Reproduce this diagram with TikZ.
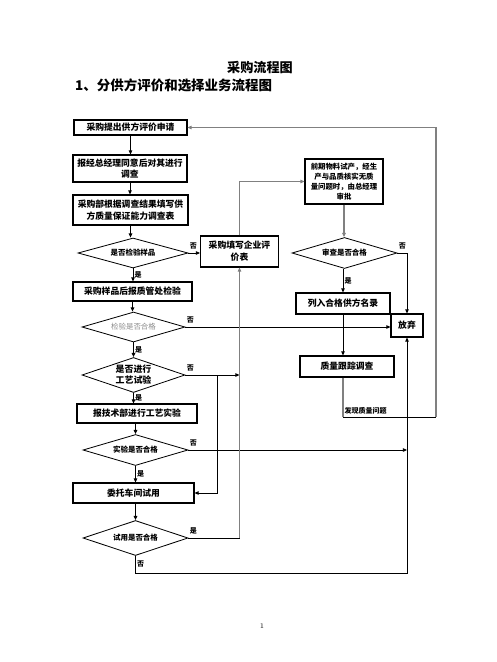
\documentclass[tikz,border=0pt]{standalone}
\usepackage{fontspec}
\newfontfamily\cjk{Noto Sans CJK SC}
\usetikzlibrary{shapes.geometric,arrows.meta}
\tikzset{
  pxsize/.style 2 args={minimum width=#1*0.03cm, minimum height=#2*0.03cm},
  stepbox/.style={draw, line width=0.9pt, inner sep=0pt, align=center, font=\cjk\bfseries\fontsize{7.5}{10}\selectfont},
  askbox/.style={draw, diamond, aspect=3, line width=0.7pt, inner sep=0pt, align=center, font=\cjk\bfseries\fontsize{6.4}{9}\selectfont},
  flow/.style={line width=0.7pt, -{Triangle[length=3.5pt,width=3pt]}},
  grayflow/.style={flow, draw=black!50, line width=1.1pt},
  grayline/.style={draw=black!50, line width=1.1pt},
  yn/.style={font=\cjk\bfseries\fontsize{6}{7}\selectfont, inner sep=1pt},
}
\begin{document}
\begin{tikzpicture}[x=0.03cm, y=-0.03cm]
\useasboundingbox (0,0) rectangle (496,662);

% Marking titles
\node (title) at (260,67) {\cjk\bfseries\fontsize{11.2}{13}\selectfont 采购流程图};
\node (subtitle) [anchor=west, inner sep=0pt] at (75,85) {\cjk\bfseries\fontsize{11.5}{13}\selectfont 1、分供方评价和选择业务流程图};

% Marking left column
\node (apply) [stepbox, pxsize={113}{15}] at (130.5,127.5) {采购提出供方评价申请};
\node (approve) [stepbox, pxsize={114}{27}] at (130,168.5) {报经总经理同意后对其进行\\调查};
\node (survey) [stepbox, pxsize={115}{30}] at (130.5,210) {采购部根据调查结果填写供\\方质量保证能力调查表};
\node (sampleq) [askbox, pxsize={110}{30}] at (133,253) {是否检验样品};
\node (inspect) [stepbox, pxsize={119}{19}] at (132.5,291.5) {采购样品后报质管处检验};
\node (inspok) [askbox, pxsize={103}{30}, font=\cjk\fontsize{6.4}{9}\selectfont, text=black!45] at (133.5,327) {检验是否合格};
\node (craftq) [askbox, pxsize={103}{35}, font=\cjk\bfseries\fontsize{7.6}{9.5}\selectfont] at (133.5,375) {是否进行\\工艺试验};
\node (craft) [stepbox, pxsize={120}{19}] at (137,413.5) {报技术部进行工艺实验};
\node (craftok) [askbox, pxsize={105}{31}] at (135.5,450) {实验是否合格};
\node (trial) [stepbox, pxsize={121}{20}] at (133.5,493) {委托车间试用};
\node (trialok) [askbox, pxsize={105}{35}] at (135.5,538) {试用是否合格};

% Marking middle and right column
\node (evalform) [stepbox, pxsize={78}{31}] at (239.5,251.5) {采购填写企业评\\价表};
\node (pilot) [stepbox, pxsize={78}{45}, font=\cjk\bfseries\fontsize{6.3}{8.5}\selectfont] at (344,181.5) {前期物料试产，经生\\产与品质核实无质\\量问题时，由总经理\\审批};
\node (review) [askbox, pxsize={105}{31}] at (344.5,253) {审查是否合格};
\node (listed) [stepbox, pxsize={94}{21}] at (343,303.5) {列入合格供方名录};
\node (track) [stepbox, pxsize={94}{21}] at (347,366.5) {质量跟踪调查};
\node (reject) [stepbox, pxsize={32}{23}] at (407,325.5) {放弃};

% Marking page number
\node (pageno) at (262,626) {\fontsize{6}{7}\selectfont 1};

% Drawing corner points
\coordinate (fbL) at (343,417);
\coordinate (fbR) at (436,417);
\coordinate (craftsplit) at (217,375);
\coordinate (rbB) at (407,573);

% Drawing main column
\draw [flow] (apply.south) -- (apply.south |- approve.north);
\draw [flow] (approve.south) -- (approve.south |- survey.north);
\draw [flow] (survey.south) -- (survey.south |- sampleq.north);
\draw [flow] (sampleq.south) -- node [yn, right] {是} (sampleq.south |- inspect.north);
\draw [flow] (inspect.south) -- (inspect.south |- inspok.north);
\draw [flow] (inspok.south) -- node [yn, right] {是} (inspok.south |- craftq.north);
\draw [flow] (craftq.south) -- node [yn, right] {是} (craftq.south |- craft.north);
\draw [flow] (craft.south -| craftok.north) -- (craftok.north);
\draw [flow] (craftok.south) -- node [yn, right] {是} (craftok.south |- trial.north);
\draw [flow] (trial.south -| trialok.north) -- (trialok.north);

% Drawing branches to the right
\draw [flow] (sampleq.east) -- node [yn, at start, anchor=south west, yshift=2pt] {否} (sampleq.east -| evalform.west);
\draw [flow] (inspok.east) -- node [yn, at start, anchor=south west, yshift=2pt] {否} (inspok.east -| reject.west);
\draw [flow] (craftq.east) -- node [yn, at start, anchor=south west, yshift=2pt] {否} (craftq.east -| evalform.south);
\draw [flow] (craftsplit) |- (trial.east);
\draw [flow] (craftok.east) -- node [yn, at start, anchor=south west, yshift=2pt] {否} (craftok.east -| rbB);
\draw [line width=0.7pt] (trialok.east) -- node [yn, at start, anchor=south west, yshift=2pt] {是} (trialok.east -| evalform.south);
\draw [grayflow] (trialok.east -| evalform.south) -- (evalform.south);
\draw [flow] (trialok.south) -- node [yn, right] {否} (trialok.south |- rbB) -- (rbB) -- (reject.south);

% Drawing supplier approval
\draw [grayflow] (evalform.north) |- (pilot.west);
\draw [grayflow] (pilot.south) -- (pilot.south |- review.north);
\draw [flow] (review.south -| listed.north) -- node [yn, right] {是} (listed.north);
\draw [flow] (review.east) -- node [yn, at start, anchor=south west, yshift=2pt] {否} (review.east -| reject.north) -- (reject.north);
\draw [flow] (listed.south) -- (listed.south |- track.north);

% Drawing feedback loop
\draw [grayline] (track.south -| fbL) -- (fbL);
\draw [line width=0.7pt] (fbL) -- node [yn, at start, anchor=south west, yshift=1pt] {发现质量问题} (fbR);
\draw [grayflow] (fbR) |- (apply.east);
\end{tikzpicture}
\end{document}
